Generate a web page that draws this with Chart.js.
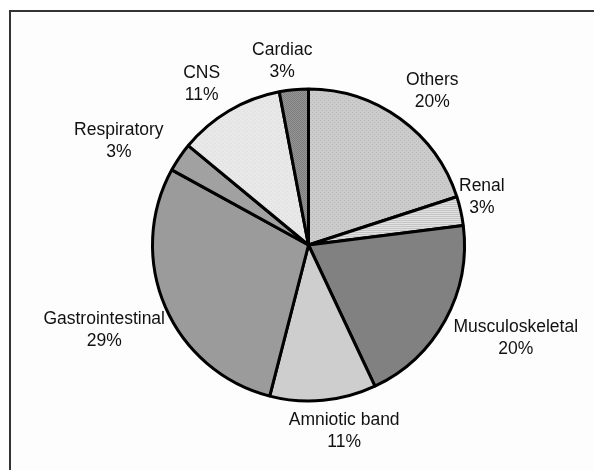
<!DOCTYPE html>
<html>
<head>
<meta charset="utf-8">
<script src="https://cdn.jsdelivr.net/npm/chart.js@4"></script>
<style>
  body { margin: 0; background: #fff; }
  #wrap { position: relative; width: 594px; height: 470px; }
  #frame {
    position: absolute; left: 9px; top: 10px; right: 0; bottom: 0;
    border-top: 2px solid #333; border-left: 2px solid #333;
    background: #fdfdfd;
  }
  #chart { position: absolute; left: 0; top: 0; }
</style>
</head>
<body>
<div id="wrap">
  <div id="frame"></div>
  <canvas id="chart" width="594" height="470"></canvas>
</div>
<script>
// slices clockwise from 12 o'clock
const categories = ["Others", "Renal", "Musculoskeletal", "Amniotic band",
  "Gastrointestinal", "Respiratory", "CNS", "Cardiac"];
const percents = [20, 3, 20, 11, 29, 3, 11, 3];

// small tiled patterns to mimic the grey fills
function pattern(size, draw) {
  const c = document.createElement("canvas");
  c.width = size; c.height = size;
  draw(c.getContext("2d"));
  return document.getElementById("chart").getContext("2d").createPattern(c, "repeat");
}

const fills = [
  pattern(4, g => { g.fillStyle = "#cbcbcb"; g.fillRect(0, 0, 4, 4); g.fillStyle = "#b8b8b8"; g.fillRect(0, 0, 1, 1); g.fillRect(2, 2, 1, 1); }),
  pattern(4, g => { g.fillStyle = "#e2e2e2"; g.fillRect(0, 0, 4, 4); g.fillStyle = "#c4c4c4"; g.fillRect(0, 0, 4, 1); g.fillRect(0, 2, 4, 1); }),
  "#818181",
  "#cecece",
  "#9b9b9b",
  "#a1a1a1",
  pattern(4, g => { g.fillStyle = "#e8e8e8"; g.fillRect(0, 0, 4, 4); g.fillStyle = "#dcdcdc"; g.fillRect(1, 1, 1, 1); g.fillRect(3, 3, 1, 1); }),
  pattern(2, g => { g.fillStyle = "#969696"; g.fillRect(0, 0, 2, 2); g.fillStyle = "#7c7c7c"; g.fillRect(0, 0, 1, 1); g.fillRect(1, 1, 1, 1); })
];

// label nudges (px) so the text sits where the original put it
const labelNudge = [[12, -3], [-9, -7], [9, 4], [15, 1], [2, 11], [-17, 1], [-14, -1], [-8, 1]];

const outsideLabels = {
  id: "outsideLabels",
  afterDatasetsDraw(chart) {
    const ctx = chart.ctx;
    const arcs = chart.getDatasetMeta(0).data;
    ctx.save();
    ctx.font = "17.5px 'Liberation Sans', Arial, sans-serif";
    ctx.fillStyle = "#111";
    ctx.textAlign = "center";
    ctx.textBaseline = "middle";
    const lineH = 22;
    arcs.forEach((arc, i) => {
      const p = arc.getProps(["x", "y", "startAngle", "endAngle", "outerRadius"], true);
      const mid = (p.startAngle + p.endAngle) / 2;
      const lines = [categories[i], percents[i] + "%"];
      const hw = Math.max(...lines.map(t => ctx.measureText(t).width)) / 2;
      const hh = lineH;
      const ax = p.x + (p.outerRadius + 8) * Math.cos(mid);
      const ay = p.y + (p.outerRadius + 8) * Math.sin(mid);
      const cx = ax + hw * Math.cos(mid) + labelNudge[i][0];
      const cy = ay + hh * Math.sin(mid) + labelNudge[i][1];
      ctx.fillText(lines[0], cx, cy - lineH / 2);
      ctx.fillText(lines[1], cx, cy + lineH / 2);
    });
    ctx.restore();
  }
};

new Chart(document.getElementById("chart"), {
  type: "pie",
  data: {
    labels: categories,
    datasets: [{
      data: percents,
      backgroundColor: fills,
      borderColor: "#000",
      borderWidth: 3,
      hoverOffset: 0
    }]
  },
  options: {
    responsive: false,
    animation: false,
    events: [],
    layout: { padding: { left: 151, right: 128, top: 87.5, bottom: 67.5 } },
    plugins: {
      legend: { display: false },
      tooltip: { enabled: false }
    }
  },
  plugins: [outsideLabels]
});
</script>
</body>
</html>
